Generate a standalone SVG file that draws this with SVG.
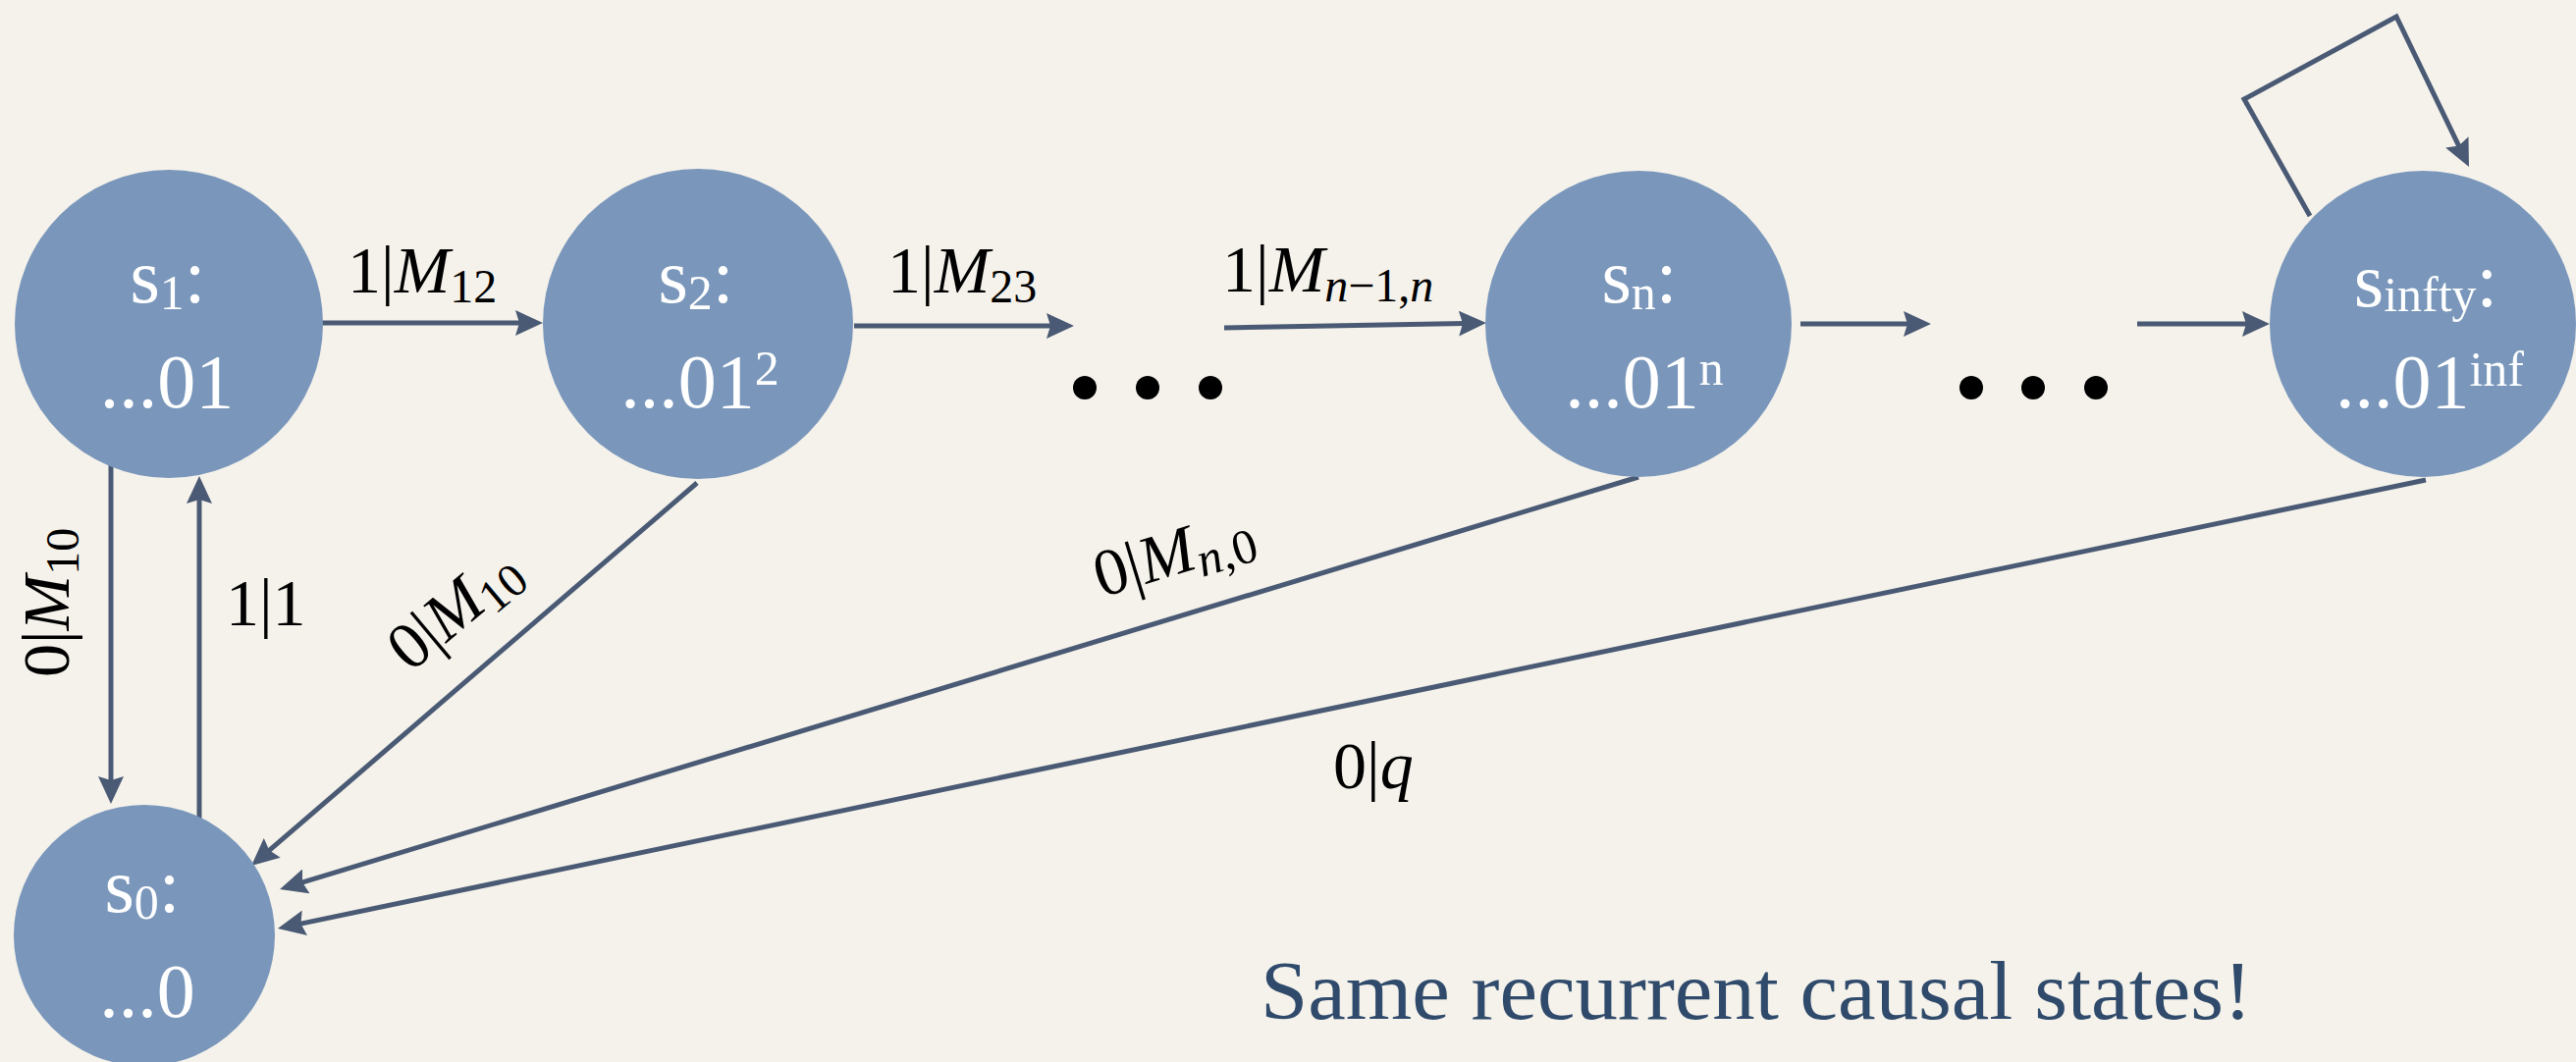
<svg xmlns="http://www.w3.org/2000/svg" width="2624" height="1082" viewBox="0 0 2624 1082">
<defs>
<marker id="arr" markerUnits="userSpaceOnUse" markerWidth="30" markerHeight="26" viewBox="0 0 30 26" refX="20" refY="13" orient="auto">
<path d="M0,0 L28,13 L0,26 L4,13 z" fill="#4a5a74"/>
</marker>
<style>
.node{fill:#7a97bb}
.nt{font-family:"Liberation Serif","DejaVu Serif",serif;font-size:78px;fill:#ffffff;text-anchor:middle}
.lb{font-family:"Liberation Serif","DejaVu Serif",serif;font-size:68px;fill:#000000}
.it{font-style:italic}
.edge{stroke:#4a5a74;stroke-width:5;fill:none;marker-end:url(#arr)}
.dot{fill:#000000}
</style>
</defs>
<rect width="2624" height="1082" fill="#f5f2eb"/>

<g id="connectors">
<line class="edge" x1="327" y1="329" x2="545" y2="329"/>
<line class="edge" x1="870" y1="332" x2="1086" y2="332"/>
<line class="edge" x1="1247" y1="334" x2="1506" y2="329.2"/>
<line class="edge" x1="1834" y1="330" x2="1959" y2="330"/>
<line class="edge" x1="2177" y1="330" x2="2304" y2="330"/>
<polyline class="edge" points="2353,220 2286,101 2441,17 2511.5,162.8"/>
<line class="edge" x1="113" y1="472" x2="113" y2="811"/>
<line class="edge" x1="203" y1="834" x2="203" y2="493"/>
<line class="edge" x1="710" y1="492" x2="262.1" y2="876.8"/>
<line class="edge" x1="1669" y1="486" x2="292.7" y2="903.7"/>
<line class="edge" x1="2471" y1="489" x2="290.8" y2="944.4"/>
</g>

<g id="edge-labels">
<text class="lb" x="354" y="298">1|<tspan class="it">M</tspan><tspan font-size="48" dy="10">12</tspan></text>
<text class="lb" x="904" y="298">1|<tspan class="it">M</tspan><tspan font-size="48" dy="10">23</tspan></text>
<text class="lb" x="1245" y="297">1|<tspan class="it">M</tspan><tspan font-size="48" dy="10"><tspan class="it">n</tspan>−1,<tspan class="it">n</tspan></tspan></text>
<text class="lb" transform="translate(70,690) rotate(-90)">0|<tspan class="it">M</tspan><tspan font-size="48" dy="10">10</tspan></text>
<text class="lb" x="230" y="637">1|1</text>
<text class="lb" transform="translate(418,686) rotate(-40)">0|<tspan class="it">M</tspan><tspan font-size="48" dy="10">10</tspan></text>
<text class="lb" transform="translate(1122,609) rotate(-17)">0|<tspan class="it">M</tspan><tspan font-size="50" dy="10"><tspan class="it">n</tspan>,0</tspan></text>
<text class="lb" x="1358" y="803">0|<tspan class="it">q</tspan></text>
</g>

<g id="dots1">
<circle class="dot" cx="1105" cy="395" r="12"/>
<circle class="dot" cx="1169" cy="395" r="12"/>
<circle class="dot" cx="1233" cy="395" r="12"/>
</g>
<g id="dots2">
<circle class="dot" cx="2008" cy="395" r="12"/>
<circle class="dot" cx="2071" cy="395" r="12"/>
<circle class="dot" cx="2135" cy="395" r="12"/>
</g>

<g id="s1">
<circle class="node" cx="172" cy="330" r="157"/>
<text class="nt" x="171" y="308">s<tspan font-size="50" dy="7">1</tspan><tspan dy="-7">:</tspan></text>
<text class="nt" x="170" y="415">...01</text>
</g>
<g id="s2">
<circle class="node" cx="711" cy="330" r="158"/>
<text class="nt" x="709" y="308">s<tspan font-size="50" dy="7">2</tspan><tspan dy="-7">:</tspan></text>
<text class="nt" x="713" y="415">...01<tspan font-size="50" dy="-23">2</tspan></text>
</g>
<g id="sn">
<circle class="node" cx="1669" cy="330" r="156"/>
<text class="nt" x="1670" y="308">s<tspan font-size="50" dy="7">n</tspan><tspan dy="-7">:</tspan></text>
<text class="nt" x="1675" y="415">...01<tspan font-size="50" dy="-23">n</tspan></text>
</g>
<g id="sinfty">
<circle class="node" cx="2468" cy="330" r="156"/>
<text class="nt" x="2471" y="312">s<tspan font-size="50" dy="5">infty</tspan><tspan dy="-5">:</tspan></text>
<text class="nt" x="2475" y="415">...01<tspan font-size="50" dy="-22">inf</tspan></text>
</g>
<g id="s0">
<circle class="node" cx="147" cy="953" r="133"/>
<text class="nt" x="145" y="929">s<tspan font-size="50" dy="7">0</tspan><tspan dy="-7">:</tspan></text>
<text class="nt" x="150" y="1036">...0</text>
</g>

<text x="1284" y="1038" font-family="Liberation Serif, DejaVu Serif, serif" font-size="84" fill="#2f4a6b" textLength="1010" lengthAdjust="spacingAndGlyphs">Same recurrent causal states!</text>
</svg>
